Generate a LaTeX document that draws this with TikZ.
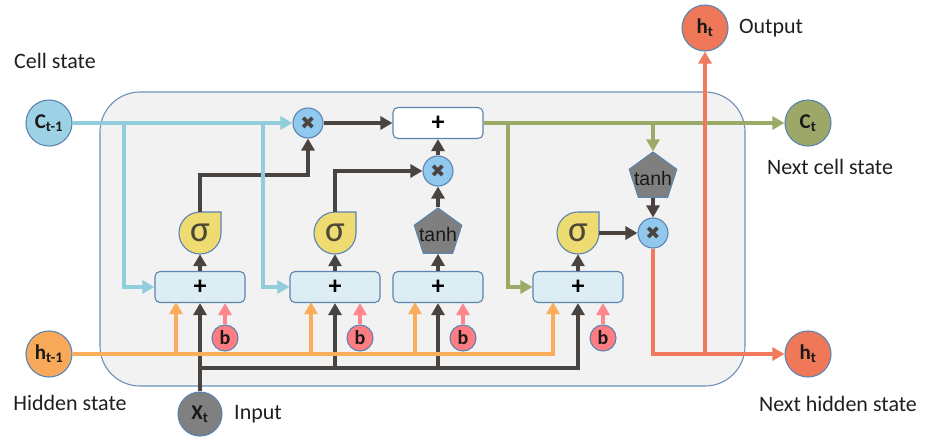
\documentclass[tikz,border=0pt]{standalone}
\usepackage{fontspec}
\setmainfont{Carlito}
\newfontfamily\arialf{Liberation Sans}
\newfontfamily\dejavu{DejaVu Sans}
\usetikzlibrary{arrows.meta,shapes.geometric}
\definecolor{bgfill}{HTML}{F2F2F2}
\definecolor{bgbord}{HTML}{6E8FB8}
\definecolor{nbord}{HTML}{5B84B1}
\definecolor{cbline}{HTML}{92CDDC}
\definecolor{cbfill}{HTML}{9DD2E6}
\definecolor{boxfill}{HTML}{DCEDF4}
\definecolor{multfill}{HTML}{90C8EE}
\definecolor{yel}{HTML}{EEDC72}
\definecolor{tgray}{HTML}{7F7F7F}
\definecolor{bfill}{HTML}{FF7C80}
\definecolor{pkline}{HTML}{FF868C}
\definecolor{orline}{HTML}{FAAE5C}
\definecolor{orfill}{HTML}{F8AA5A}
\definecolor{dkc}{HTML}{4A4441}
\definecolor{olline}{HTML}{9CAA67}
\definecolor{olfill}{HTML}{9DA868}
\definecolor{slline}{HTML}{F07A5B}
\definecolor{slfill}{HTML}{EF7858}
\definecolor{xfill}{HTML}{808080}
\definecolor{sigtext}{HTML}{4D4838}
\newcommand\sigbody[2]{\filldraw[sigst] (#1+21,#2-21) -- (#1+21,#2) arc[start angle=0,end angle=270,radius=21] -- cycle;}
\begin{document}
\begin{tikzpicture}[x=1pt,y=-1pt,
  >={Triangle[width=13pt,length=12pt]},
  bign/.style={circle, draw=nbord, line width=1.1pt, minimum size=46pt, inner sep=0pt, text=black!90, font=\fontsize{21}{24}\selectfont\bfseries},
  sumbox/.style={rectangle, rounded corners=5pt, draw=nbord, line width=1.1pt, fill=boxfill, minimum width=90pt, minimum height=31pt, inner sep=0pt, font=\fontsize{26}{26}\selectfont\bfseries},
  mult/.style={circle, draw=nbord, line width=1.1pt, fill=multfill, minimum size=30pt, inner sep=0pt, text=dkc, font=\dejavu\fontsize{18}{18}\selectfont},
  bnode/.style={circle, draw=nbord, line width=1.1pt, fill=bfill, minimum size=26pt, inner sep=0pt, text=black!90, font=\fontsize{20}{20}\selectfont\bfseries},
  tanhs/.style={regular polygon, regular polygon sides=5, minimum size=50pt, inner sep=0pt, draw=nbord, fill=tgray, line width=1.1pt},
  tanht/.style={inner sep=0pt, text=black!90, font=\arialf\fontsize{19.5}{19.5}\selectfont},
  sign/.style={circle, minimum size=42pt, inner sep=0pt, text=sigtext, font=\fontsize{37}{37}\selectfont},
  sigst/.style={draw=nbord, fill=yel, line width=1.1pt},
  lab/.style={inner sep=0pt, text=black!88, font=\fontsize{22}{26}\selectfont},
  dk/.style={line width=4.2pt, draw=dkc},
  orl/.style={line width=4.2pt, draw=orline},
  cl/.style={line width=4.2pt, draw=cbline},
  ol/.style={line width=4.2pt, draw=olline},
  sl/.style={line width=4.2pt, draw=slline},
  pk/.style={line width=4.2pt, draw=pkline}
]
\useasboundingbox (0,0) rectangle (933,440);
\draw[fill=bgfill, draw=bgbord, line width=1.1pt, rounded corners=40pt] (100,92) rectangle (745,386);

% outer nodes
\node[bign, fill=cbfill] (c0) at (49,123) {C\textsubscript{t-1}};
\node[bign, fill=orfill] (h0) at (49,354) {h\textsubscript{t-1}};
\node[bign, fill=xfill, minimum size=44pt] (x0) at (200,414) {X\textsubscript{t}};
\node[bign, fill=slfill] (ho) at (705,28) {h\textsubscript{t}};
\node[bign, fill=olfill] (c1) at (808,123) {C\textsubscript{t}};
\node[bign, fill=slfill] (hn) at (808,354) {h\textsubscript{t}};

% labels
\node[lab] (lcs) at (55,61) {Cell state};
\node[lab] (lhs) at (70,403) {Hidden state};
\node[lab] (lin) at (258,414) {Input};
\node[lab] (lout) at (771,28) {Output};
\node[lab] (lncs) at (830,167) {Next cell state};
\node[lab] (lnhs) at (838,404) {Next hidden state};

% sum boxes
\node[sumbox] (p1) at (200,287) {+};
\node[sumbox] (p2) at (335,287) {+};
\node[sumbox] (p3) at (438,287) {+};
\node[sumbox] (p4) at (578,287) {+};
\node[sumbox, fill=white] (top) at (438,123) {+};

% multiply
\node[mult] (m1) at (308,123) {✖};
\node[mult] (m2) at (438,171) {✖};
\node[mult] (m3) at (653,233) {✖};

% sigma
\sigbody{200}{233}
\node[sign] (s1) at (200,233) {σ};
\sigbody{335}{233}
\node[sign] (s2) at (335,233) {σ};
\sigbody{578}{233}
\node[sign] (s3) at (578,233) {σ};

% tanh
\node[tanhs] (t1) at (438,233) {};
\node[tanht] (t1l) at (438,235) {tanh};
\node[tanhs] (t2) at (653,177) {};
\node[tanht] (t2l) at (653,179) {tanh};

% biases
\node[bnode] (b1) at (225,338) {b};
\node[bnode] (b2) at (360,338) {b};
\node[bnode] (b3) at (463,338) {b};
\node[bnode] (b4) at (603,338) {b};

% coordinates
\coordinate (k1) at (200,175);
\coordinate (d0) at (200,368);
\coordinate (j1) at (124,123);
\coordinate (j2) at (263,123);
\coordinate (g1) at (508,123);
\coordinate (g2) at (653,123);
\coordinate (r1) at (705,354);
\coordinate (o1) at (176,302);
\coordinate (o2) at (311,302);
\coordinate (o3) at (415,302);
\coordinate (o4) at (553,302);

% dark connectors
\draw[dk,->] (x0) -- (p1);
\draw[dk,->] (d0) -| (p4.south);
\draw[dk,->] (p2.south |- d0) -- (p2.south);
\draw[dk,->] (p3.south |- d0) -- (p3.south);
\draw[dk,->] (p1) -- (s1);
\draw[dk,->] (p2) -- (s2);
\draw[dk,->] (p3) -- (t1);
\draw[dk,->] (p4) -- (s3);
\draw[dk,->] (s1.north) -- (k1) -| (m1);
\draw[dk,->] (s2.north) |- (m2);
\draw[dk,->] (t1) -- (m2);
\draw[dk,->] (m2) -- (top);
\draw[dk,->] (m1) -- (top);
\draw[dk,->] (s3) -- (m3);
\draw[dk,->] (t2) -- (m3);

% hidden state (orange)
\draw[orl,->] (h0) -| (o4);
\draw[orl,->] (o1 |- h0) -- (o1);
\draw[orl,->] (o2 |- h0) -- (o2);
\draw[orl,->] (o3 |- h0) -- (o3);

% biases
\draw[pk,->] (b1) -- (b1 |- p1.south);
\draw[pk,->] (b2) -- (b2 |- p2.south);
\draw[pk,->] (b3) -- (b3 |- p3.south);
\draw[pk,->] (b4) -- (b4 |- p4.south);

% cell state (light blue)
\draw[cl,->] (c0) -- (m1);
\draw[cl,->] (j1) |- (p1);
\draw[cl,->] (j2) |- (p2);

% new cell state (olive)
\draw[ol,->] (top) -- (c1);
\draw[ol,->] (g1) |- (p4);
\draw[ol,->] (g2) -- (t2);

% hidden output (salmon)
\draw[sl,->] (m3) |- (hn);
\draw[sl,->] (r1) -- (ho);
\end{tikzpicture}
\end{document}
